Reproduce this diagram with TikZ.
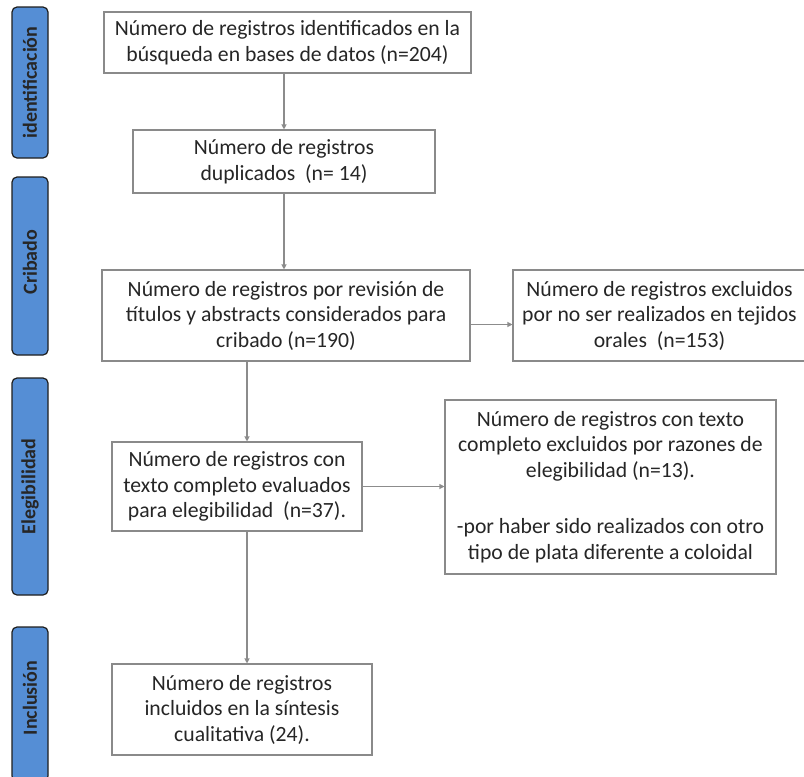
\documentclass[tikz,border=0pt]{standalone}
\usepackage{fontspec}
\setmainfont{Carlito}
\usetikzlibrary{arrows.meta,calc}
\definecolor{boxline}{HTML}{8A8A8A}
\definecolor{arrline}{HTML}{8C8C8C}
\definecolor{barfill}{HTML}{558ED5}
\definecolor{barline}{HTML}{1E1E1E}
\tikzset{
  flowbox/.style={draw=boxline, line width=1.1pt, fill=white, align=center, inner sep=2pt,
    font=\fontsize{21.7}{25.5}\selectfont, text=black!85},
  phasebar/.style={draw=barline, line width=1.2pt, fill=barfill, rounded corners=5pt},
  phaselabel/.style={rotate=90, font=\fontsize{20}{22}\selectfont\bfseries, text=black!85},
  arr/.style={draw=arrline, line width=1.1pt, -{Triangle[length=5pt,width=5pt]}}
}
\begin{document}
\begin{tikzpicture}[x=1pt,y=-1pt]
\useasboundingbox (0,0) rectangle (804,777);
% phase bars
\draw[phasebar] (12,7) rectangle (48,158);
\node[phaselabel] (lid) at (30,82.5) {identificación};
\draw[phasebar] (12,177) rectangle (48,355);
\node[phaselabel] (lcr) at (30,262) {Cribado};
\draw[phasebar] (12,378) rectangle (48,595);
\node[phaselabel] (lel) at (30,486.5) {Elegibilidad};
\draw[phasebar] (12,627) rectangle (48,781);
\node[phaselabel] (lin) at (30,698) {Inclusión};
% boxes
\node[flowbox, minimum width=367pt, minimum height=61pt] (b1) at (287.5,42.5)
  {Número de registros identificados en la\\búsqueda en bases de datos (n=204)};
\node[flowbox, minimum width=302pt, minimum height=63pt] (b2) at (284,161.5)
  {Número de registros\\duplicados~~(n= 14)};
\node[flowbox, minimum width=368pt, minimum height=91pt] (b3) at (286,315.5)
  {Número de registros por revisión de\\títulos y abstracts considerados para\\cribado (n=190)};
\node[flowbox, minimum width=293pt, minimum height=91pt] (b4) at (659.5,315.5)
  {Número de registros excluidos\\por no ser realizados en tejidos\\orales~~(n=153)};
\node[flowbox, minimum width=250pt, minimum height=89pt] (b5) at (237,486.5)
  {Número de registros con\\texto completo evaluados\\para elegibilidad~~(n=37).};
\node[flowbox, minimum width=331pt, minimum height=174pt] (b6) at (610.5,487)
  {Número de registros con texto\\completo excluidos por razones de\\elegibilidad (n=13).\\[31pt]-por haber sido realizados con otro\\tipo de plata diferente a coloidal};
\node[flowbox, minimum width=260pt, minimum height=91pt] (b7) at (242,709.5)
  {Número de registros\\incluidos en la síntesis\\cualitativa (24).};
% connectors
\coordinate (colx) at (247,0);
\draw[arr] (b2.north |- b1.south) -- (b2.north);
\draw[arr] (b2.south) -- (b2.south |- b3.north);
\draw[arr] ([yshift=-9pt]b3.east) -- ([yshift=-9pt]b3.east -| b4.west);
\draw[arr] (b3.south -| colx) -- (b5.north -| colx);
\draw[arr] (b5.east) -- (b5.east -| b6.west);
\draw[arr] (b5.south -| colx) -- (b7.north -| colx);
\end{tikzpicture}
\end{document}
